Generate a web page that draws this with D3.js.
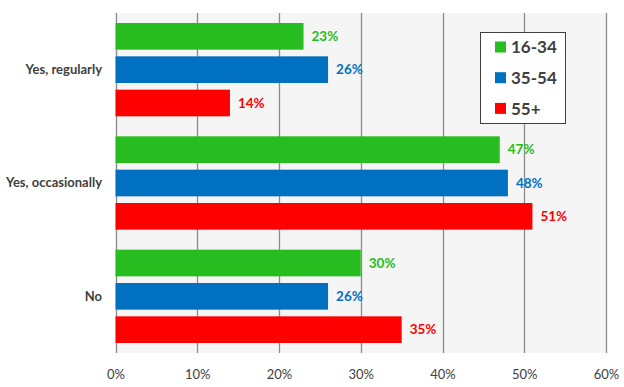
<!DOCTYPE html>
<html>
<head>
<meta charset="utf-8">
<script src="https://cdn.jsdelivr.net/npm/d3@7"></script>
<style>
  body { margin: 0; background: #fff; }
  text { font-family: Lato, "Open Sans", sans-serif; }
</style>
</head>
<body>
<div id="container"></div>
<script>
  /* CONSTANTS AND GLOBALS */
  const width = 624,
        height = 387,
        margin = {top: 13, bottom: 34, left: 115.5, right: 18};

  // data
  const categories = ["Yes, regularly", "Yes, occasionally", "No"];
  const ageGroups = ["16-34", "35-54", "55+"];
  const values1634 = [23, 47, 30];
  const values3554 = [26, 48, 26];
  const values55 = [14, 51, 35];
  const tickValues = [0, 10, 20, 30, 40, 50, 60];
  const colors = ["#27bd20", "#0070c0", "#ff0000"];

  const seriesValues = [values1634, values3554, values55];
  const rows = [];
  categories.forEach((c, i) => {
    ageGroups.forEach((g, j) => {
      rows.push({cat: c, group: g, value: seriesValues[j][i]});
    });
  });

  // + SCALES
  const xScale = d3.scaleLinear()
      .domain([0, 60])
      .range([margin.left, width - margin.right]);

  const yScale = d3.scaleBand()
      .domain(categories)
      .range([margin.top, height - margin.bottom]);

  const yInner = d3.scaleBand()
      .domain(ageGroups)
      .range([0, yScale.bandwidth()])
      .paddingInner(0.2)
      .paddingOuter(0.3);

  const colorScale = d3.scaleOrdinal().domain(ageGroups).range(colors);

  // + CREATE SVG ELEMENT
  const svg = d3.select("#container").append("svg")
      .attr("width", width)
      .attr("height", height);

  // plot background
  svg.append("rect")
      .attr("x", xScale(0))
      .attr("y", margin.top)
      .attr("width", xScale(60) - xScale(0))
      .attr("height", height - margin.bottom - margin.top)
      .attr("fill", "#f5f5f5");

  // gridlines
  svg.append("g")
    .selectAll("line")
    .data(tickValues)
    .join("line")
      .attr("x1", d => Math.round(xScale(d)) + 0.5)
      .attr("x2", d => Math.round(xScale(d)) + 0.5)
      .attr("y1", margin.top)
      .attr("y2", height - margin.bottom)
      .attr("stroke", "#8c8c8c")
      .attr("stroke-width", 1.3);

  // + AXES
  const xAxis = d3.axisBottom(xScale)
      .tickValues(tickValues)
      .tickFormat(d => d + "%")
      .tickSize(0)
      .tickPadding(0);

  svg.append("g")
      .attr("transform", `translate(0,${height - 12})`)
      .call(xAxis)
      .call(g => g.select(".domain").remove())
      .selectAll("text")
        .attr("dy", "0.32em")
        .attr("y", 0)
        .attr("font-size", "13px")
        .attr("fill", "#404040")
        .style("font-family", "Lato, sans-serif");

  const yAxis = d3.axisLeft(yScale).tickSize(0).tickPadding(0);
  svg.append("g")
      .attr("transform", `translate(${102},0)`)
      .call(yAxis)
      .call(g => g.select(".domain").remove())
      .selectAll("text")
        .attr("font-size", "13px")
        .attr("font-weight", "bold")
        .attr("fill", "#404040")
        .style("font-family", "Lato, sans-serif");

  // bars
  svg.append("g")
    .selectAll("rect")
    .data(rows)
    .join("rect")
      .attr("x", xScale(0))
      .attr("y", d => yScale(d.cat) + yInner(d.group))
      .attr("width", d => xScale(d.value) - xScale(0))
      .attr("height", yInner.bandwidth())
      .attr("fill", d => colorScale(d.group));

  // value labels
  svg.append("g")
    .selectAll("text")
    .data(rows)
    .join("text")
      .attr("x", d => xScale(d.value) + 8)
      .attr("y", d => yScale(d.cat) + yInner(d.group) + yInner.bandwidth() / 2)
      .attr("dy", "0.35em")
      .attr("font-size", "13.5px")
      .attr("font-weight", "bold")
      .attr("fill", d => colorScale(d.group))
      .text(d => d.value + "%");

  // legend
  const legend = svg.append("g").attr("transform", "translate(480.5,32.5)");
  legend.append("rect")
      .attr("width", 85)
      .attr("height", 91)
      .attr("fill", "#fff")
      .attr("stroke", "#404040")
      .attr("stroke-width", 1);

  const items = legend.selectAll("g.item")
    .data(ageGroups)
    .join("g")
      .attr("class", "item")
      .attr("transform", (d, i) => `translate(14.5,${14.5 + i * 30.7})`);

  items.append("rect")
      .attr("width", 11)
      .attr("height", 11)
      .attr("y", -5.5)
      .attr("fill", d => colorScale(d));

  items.append("text")
      .attr("x", 16)
      .attr("dy", "0.36em")
      .attr("font-size", "17px")
      .attr("font-weight", "bold")
      .attr("fill", "#404040")
      .text(d => d);
</script>
</body>
</html>
